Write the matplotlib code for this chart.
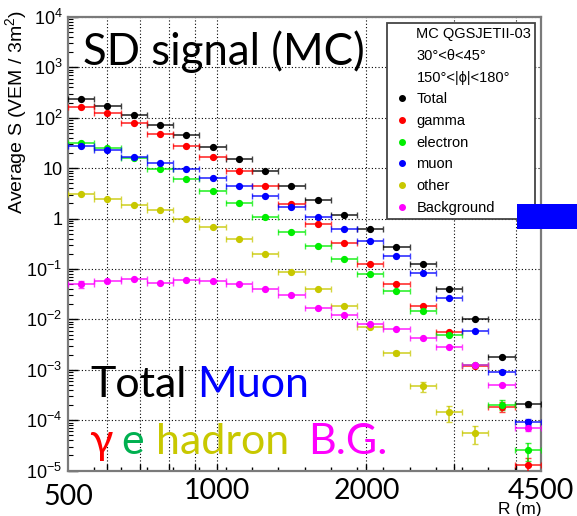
import matplotlib
matplotlib.use("Agg")
import matplotlib.pyplot as plt
import matplotlib.transforms as mtransforms
import numpy as np
from matplotlib.lines import Line2D
from matplotlib.patches import Rectangle
from matplotlib.ticker import FixedLocator, FixedFormatter, NullFormatter

plt.rcParams["font.family"] = ["Liberation Sans", "DejaVu Sans"]
plt.rcParams["mathtext.fontset"] = "custom"
plt.rcParams["mathtext.rm"] = "Liberation Sans"
plt.rcParams["mathtext.it"] = "Liberation Sans:italic"

# distance bins (m), equal width in log R
r_edges = [500.0, 564.9, 638.2, 721.1, 814.7, 920.4, 1040.0, 1175.0, 1327.6, 1500.0,
           1694.7, 1914.8, 2163.4, 2444.3, 2761.6, 3120.1, 3525.2, 3982.9, 4500.0]

# average signal per bin (VEM / 3 m^2)
total = [236, 171, 114, 72, 45.6, 26.7, 15.4, 8.66, 4.37, 2.34, 1.16, 0.614,
         0.277, 0.124, 0.0395, 0.0102, 0.00179, 2.07e-4]
gamma = [164, 124.5, 78.8, 48.4, 28.0, 16.5, 8.66, 4.37, 1.98, 0.792, 0.333, 0.127,
         0.0497, 0.0185, 0.0056, 0.0012, 1.85e-4, 1.29e-5]
electron = [32.1, 25.2, 15.6, 9.86, 6.02, 3.53, 2.07, 1.07, 0.55, 0.286, 0.158, 0.0785,
            0.0361, 0.0149, 0.00484, 0.00122, 2.04e-4, 2.56e-5]
muon = [27.9, 22.6, 16.9, 12.9, 9.51, 6.48, 4.37, 2.77, 1.70, 1.08, 0.622, 0.355,
        0.184, 0.0815, 0.0262, 0.00589, 8.9e-4, 9.3e-5]
other = [3.08, 2.41, 1.86, 1.48, 0.982, 0.681, 0.385, 0.201, 0.0891, 0.0397, 0.0185,
         0.0070, 0.00218, 4.7e-4, 1.44e-4, 5.6e-5, np.nan, np.nan]
background = [0.0499, 0.0591, 0.0625, 0.0516, 0.0597, 0.0586, 0.0511, 0.0410, 0.0301,
              0.0166, 0.0121, 0.00818, 0.00637, 0.00422, 0.00279, 0.00124, 4.99e-4, 6.9e-5]

# relative statistical errors (only the visible ones)
total_err = [0] * 16 + [0.05, 0.13]
gamma_err = [0] * 16 + [0.22, 0.35]
electron_err = [0] * 16 + [0.22, 0.4]
muon_err = [0] * 16 + [0.05, 0.13]
other_err = [0] * 12 + [0.1, 0.22, 0.35, 0.4, 0, 0]
background_err = [0.16] + [0] * 15 + [0.05, 0.1]

series = [
    ("Total", total, total_err, "#000000"),
    ("gamma", gamma, gamma_err, "#ff0000"),
    ("electron", electron, electron_err, "#00ee00"),
    ("muon", muon, muon_err, "#0000ff"),
    ("other", other, other_err, "#c8c800"),
    ("Background", background, background_err, "#ff00ff"),
]

# hand-written R labels under the axis
r_labels = [500, 1000, 2000, 4500]

W, H = 577, 516


def px(x, y):
    # pixel position (origin top-left) -> figure fraction
    return x / W, 1 - y / H


fig = plt.figure(figsize=(W / 100, H / 100), dpi=100)
ax = fig.add_axes([68 / W, 1 - 470.6 / H, 473 / W, 453.6 / H])

edges = np.array(r_edges)
centers = np.sqrt(edges[:-1] * edges[1:])

for name, vals, errs, color in series:
    y = np.array(vals, dtype=float)
    f = np.array(errs, dtype=float)
    ok = ~np.isnan(y)
    xc = centers[ok]
    xerr = [xc - edges[:-1][ok], edges[1:][ok] - xc]
    yerr = [y[ok] * f[ok], y[ok] * f[ok]]
    line, caps, bars = ax.errorbar(xc, y[ok], xerr=xerr, yerr=yerr, fmt="o", ms=4.2,
                                   color=color, ecolor=color, elinewidth=1.3,
                                   capsize=2.5, capthick=1.0, zorder=3)
    for b in bars:
        b.set_alpha(0.75)
    for c in caps:
        c.set_alpha(0.75)

ax.set_xscale("log")
ax.set_yscale("log")
ax.set_xlim(500, 4500)
ax.set_ylim(1e-5, 1e4)

ax.xaxis.set_major_locator(FixedLocator([600, 700, 800, 900, 1000, 2000, 3000, 4000]))
ax.xaxis.set_major_formatter(NullFormatter())
ax.xaxis.set_minor_locator(FixedLocator(r_edges[1:-1]))
ax.xaxis.set_minor_formatter(NullFormatter())

decades = [10.0 ** k for k in range(-5, 5)]
dec_labels = ["$10^{-5}$", "$10^{-4}$", "$10^{-3}$", "$10^{-2}$", "$10^{-1}$",
              "1", "10", "$10^{2}$", "$10^{3}$", "$10^{4}$"]
ax.yaxis.set_major_locator(FixedLocator(decades))
ax.yaxis.set_major_formatter(FixedFormatter(dec_labels))
ax.yaxis.set_minor_locator(FixedLocator([m * d for d in decades[:-1] for m in range(2, 10)]))
ax.yaxis.set_minor_formatter(NullFormatter())

ax.tick_params(axis="x", which="major", direction="in", length=5, width=1, color="k")
ax.tick_params(axis="x", which="minor", direction="in", length=3, width=1, color="k")
ax.tick_params(axis="y", which="major", direction="in", length=7, width=1, color="k",
               labelsize=13, pad=4)
ax.tick_params(axis="y", which="minor", direction="in", length=3.5, width=0.8, color="k")

ax.grid(True, which="major", color="k", ls=(0, (1, 2)), lw=0.8)
ax.set_axisbelow(True)
for s in ax.spines.values():
    s.set_color("#7a7a7a")
    s.set_linewidth(1.6)

ax.set_ylabel("Average S (VEM / 3m$^{2}$)", fontsize=14, loc="top")
ax.yaxis.set_label_coords(-0.082, 1.016)
ax.set_xlabel("R (m)", fontsize=12.5, loc="right")
ax.xaxis.set_label_coords(1.0, -0.07)

handles = [Line2D([], [], ls="none")] * 3 + [
    Line2D([], [], ls="none", marker="o", ms=4, color=c) for _, _, _, c in series]
labels = ["MC QGSJETII-03", "30°<θ<45°", "150°<|ϕ|<180°"] + [s[0] for s in series]
leg = ax.legend(handles, labels, loc="upper left",
                bbox_to_anchor=(0.675, 0.562, 0.313, 0.4255), mode="expand",
                borderaxespad=0, fontsize=10.5, fancybox=False, framealpha=1,
                edgecolor="#444444", borderpad=0.3, handlelength=1.4,
                handletextpad=0.3, labelspacing=0.53, numpoints=1)
leg.get_frame().set_linewidth(1.3)
leg.set_zorder(5)

# slide annotations
big = ["Lato", "DejaVu Sans"]
fig.text(*px(83, 65), "SD signal (MC)", fontsize=31.5, family=big, color="k", va="baseline")
fig.text(*px(90, 397), "Total", fontsize=31, family=big, color="k", va="baseline")
fig.text(*px(197, 397), "Muon", fontsize=31, family=big, color="#0000ff", va="baseline")
fig.text(*px(89, 454), "γ", fontsize=31, family=big, color="#ff0000", va="baseline")
fig.text(*px(121, 454), "e", fontsize=31, family=big, color="#00b050", va="baseline")
fig.text(*px(156, 454), "hadron", fontsize=31, family=big, color="#c8c800", va="baseline")
fig.text(*px(308, 454), "B.G.", fontsize=31, family=big, color="#ff00ff", va="baseline")

xlab_trans = mtransforms.blended_transform_factory(ax.transData, ax.transAxes)
for r in r_labels:
    ylab = -0.03 if r == r_labels[0] else -0.016
    ax.text(r, ylab, str(r), transform=xlab_trans, ha="center", va="top",
            fontsize=20.5, family=big, color="k", clip_on=False)

fig.patches.append(Rectangle(px(516.7, 228.5), 61 / W, 25 / H, transform=fig.transFigure,
                             facecolor="#0000ff", edgecolor="none", zorder=10))

fig.savefig("out.png", dpi=100, facecolor="white")
